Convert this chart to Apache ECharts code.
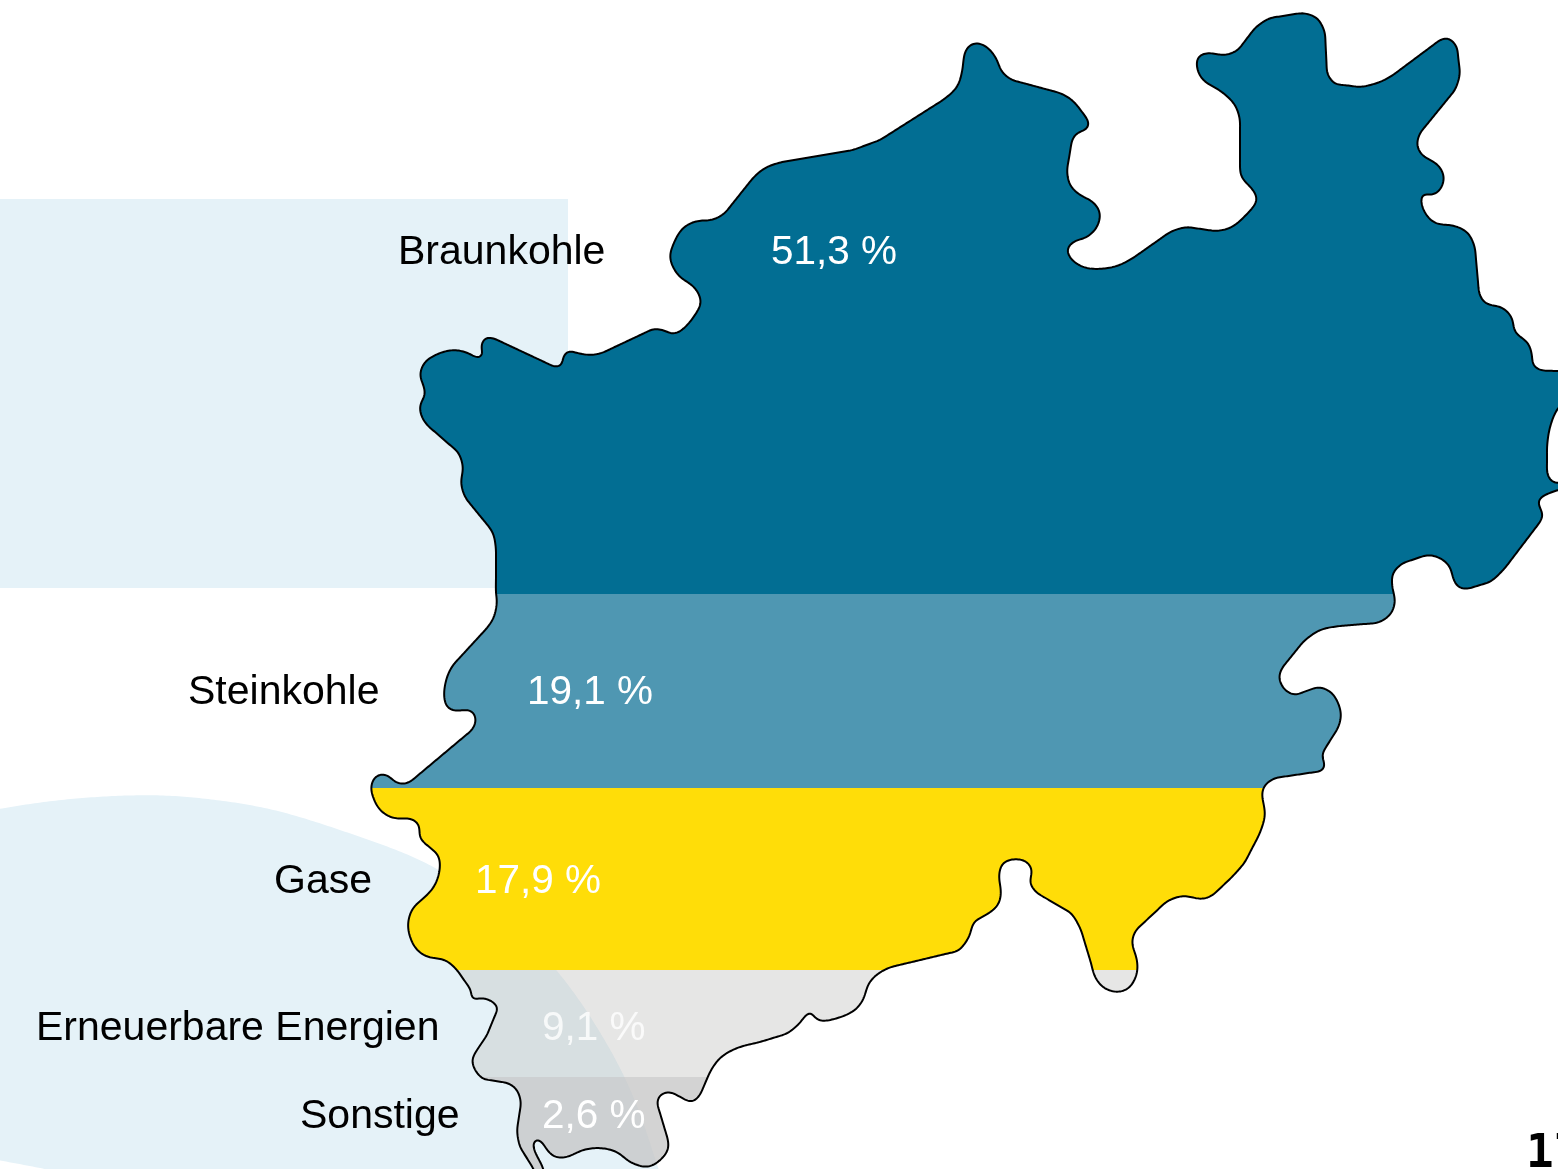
<!DOCTYPE html>
<html><head><meta charset="utf-8">
<style>html,body{margin:0;padding:0;background:#fff;overflow:hidden}#c{width:1558px;height:1169px}</style>
<script src="https://cdn.jsdelivr.net/npm/echarts@6/dist/echarts.min.js"></script>
</head><body><div id="c"></div>
<script>
const categories = ['Braunkohle','Steinkohle','Gase','Erneuerbare Energien','Sonstige'];
const shares = [51.3,19.1,17.9,9.1,2.6];
const bandEdges = [0,594,788,970,1077,1169];
const bandColors = ['#026e93','#4f97b2','#ffdd08','rgba(198,198,195,0.43)','rgba(198,198,198,0.77)'];
const nameX = [398,188,274,36,300];
const valueX = [771,527,475,542,542];
const textY = [253,693,882,1029,1117];
const outline = [
[496,594],[496,577],[496,550],[493,533],[485,522],[467,500],[465,497],[461,483],[463,467],[458,452],[427,425],[421,415],[420,405],[425,395],[424,387],[420,375],[425,362],[440,353],[455,350],[468,353],[478,358],[483,355],[481,347],[485,338],[493,338],[555,367],[562,365],[563,357],[568,351],[577,353],[590,355],[602,353],[653,329],[663,330],[673,334],[682,330],[695,315],[701,302],[695,288],[678,275],[670,258],[673,245],[683,228],[697,221],[712,220],[725,213],[753,178],[765,168],[782,162],[853,150],[880,140],[943,100],[957,87],[962,72],[965,52],[970,45],[978,43],[988,48],[996,58],[1002,72],[1012,80],[1060,93],[1072,100],[1082,112],[1089,123],[1087,129],[1077,133],[1072,140],[1067,170],[1070,185],[1080,195],[1093,202],[1100,213],[1097,227],[1087,237],[1073,242],[1067,250],[1072,260],[1083,267],[1097,269],[1117,266],[1133,258],[1170,232],[1187,227],[1215,231],[1230,228],[1243,218],[1257,200],[1253,190],[1242,178],[1240,170],[1240,120],[1235,105],[1222,92],[1203,80],[1197,68],[1198,57],[1207,53],[1225,55],[1238,50],[1255,28],[1270,18],[1302,13],[1317,18],[1325,33],[1327,73],[1335,84],[1360,87],[1380,82],[1393,75],[1440,40],[1448,38],[1457,47],[1460,73],[1455,90],[1420,133],[1417,145],[1422,155],[1438,165],[1444,177],[1440,190],[1432,195],[1423,194],[1421,200],[1425,213],[1435,223],[1455,226],[1468,233],[1475,248],[1479,293],[1485,303],[1503,308],[1512,318],[1515,332],[1528,343],[1532,355],[1533,365],[1540,370],[1558,371],[1572,373],[1572,395],[1558,408],[1550,427],[1547,447],[1547,473],[1552,482],[1558,483],[1572,484],[1572,486],[1558,490],[1540,498],[1538,503],[1543,515],[1540,522],[1505,568],[1490,582],[1467,589],[1458,587],[1453,578],[1450,567],[1440,558],[1427,555],[1403,563],[1393,573],[1392,585],[1395,602],[1390,615],[1377,623],[1340,626],[1320,630],[1303,642],[1282,668],[1279,678],[1285,690],[1295,695],[1318,687],[1332,693],[1341,713],[1338,728],[1323,752],[1322,757],[1325,765],[1322,771],[1275,778],[1265,785],[1262,793],[1265,815],[1259,835],[1245,862],[1231,878],[1213,895],[1203,899],[1182,896],[1166,902],[1136,930],[1132,942],[1137,960],[1137,973],[1130,987],[1119,992],[1104,988],[1095,977],[1091,963],[1081,930],[1071,913],[1037,893],[1030,883],[1032,870],[1027,862],[1016,859],[1003,863],[999,875],[1001,893],[998,905],[986,915],[974,922],[969,937],[958,951],[891,967],[879,973],[869,983],[863,1000],[855,1010],[841,1017],[821,1021],[815,1018],[811,1012],[807,1014],[798,1025],[786,1034],[760,1042],[737,1048],[720,1058],[710,1072],[700,1095],[692,1102],[682,1098],[670,1092],[660,1095],[657,1103],[668,1140],[668,1150],[658,1162],[647,1167],[630,1162],[617,1152],[600,1148],[583,1150],[567,1157],[555,1157],[547,1150],[542,1142],[537,1139],[533,1143],[535,1152],[543,1168],[545,1182],[538,1178],[533,1168],[520,1147],[517,1130],[521,1103],[517,1090],[508,1083],[483,1079],[475,1070],[472,1060],[477,1050],[487,1035],[498,1008],[493,1002],[483,998],[472,999],[471,990],[457,970],[445,960],[428,957],[417,950],[410,937],[408,923],[413,908],[425,897],[435,885],[440,867],[438,855],[428,846],[420,838],[419,825],[412,819],[393,818],[380,810],[373,797],[371,787],[375,777],[383,774],[390,777],[395,782],[403,784],[410,782],[472,730],[476,720],[472,711],[463,710],[455,711],[447,707],[444,695],[447,677],[453,665],[487,628],[494,617],[497,600]
];
const backdropRect = [0,199,568,588];
const backdropBlob = [[-80,832],[0,809],[80,798],[160,795],[200,798],[267,808],[340,830],[437,868],[500,916],[557,970],[625,1077],[658,1169],[680,1260],[300,1240],[120,1185],[45,1169],[0,1160],[-80,1140],[-120,1000]];
const pageMark = '17';

const fmt = v => v.toFixed(1).replace('.',',') + ' %';

// Keep long border runs straight by pinning the path near both ends of each run.
function pinRuns(pts, minLen, offset){
  const out=[];
  pts.forEach((p,i)=>{
    const q=pts[(i+1)%pts.length], len=Math.hypot(q[0]-p[0],q[1]-p[1]);
    out.push(p);
    if(len>minLen){
      const k=offset/len;
      out.push([p[0]+(q[0]-p[0])*k,p[1]+(q[1]-p[1])*k]);
      out.push([q[0]-(q[0]-p[0])*k,q[1]-(q[1]-p[1])*k]);
    }
  });
  return out;
}
// Centripetal Catmull-Rom tracing of a closed pixel-space outline.
function trace(pts, steps){
  const n=pts.length, out=[];
  const dist=(a,b)=>Math.sqrt(Math.hypot(a[0]-b[0],a[1]-b[1]))||1e-3;
  const mix=(a,b,ta,tb,t)=>[a[0]+(b[0]-a[0])*(t-ta)/(tb-ta),a[1]+(b[1]-a[1])*(t-ta)/(tb-ta)];
  for(let i=0;i<n;i++){
    const p0=pts[(i-1+n)%n],p1=pts[i],p2=pts[(i+1)%n],p3=pts[(i+2)%n];
    const t0=0,t1=t0+dist(p0,p1),t2=t1+dist(p1,p2),t3=t2+dist(p2,p3);
    for(let s=0;s<steps;s++){
      const t=t1+(t2-t1)*s/steps;
      const a1=mix(p0,p1,t0,t1,t),a2=mix(p1,p2,t1,t2,t),a3=mix(p2,p3,t2,t3,t);
      const b1=mix(a1,a2,t0,t2,t),b2=mix(a2,a3,t1,t3,t);
      out.push(mix(b1,b2,t1,t2,t));
    }
  }
  return out;
}
// Even spacing along the closed path, then a small rolling mean to round leftover kinks.
function soften(pts, spacing, half, passes){
  const even=[]; let carry=0;
  for(let i=0;i<pts.length;i++){
    const a=pts[i],b=pts[(i+1)%pts.length],len=Math.hypot(b[0]-a[0],b[1]-a[1]);
    let d=carry;
    while(d<len){ even.push([a[0]+(b[0]-a[0])*d/len,a[1]+(b[1]-a[1])*d/len]); d+=spacing; }
    carry=d-len;
  }
  let cur=even; const n=even.length;
  for(let k=0;k<passes;k++){
    cur=cur.map((_,i)=>{
      let x=0,y=0;
      for(let j=-half;j<=half;j++){ const q=cur[(i+j+n)%n]; x+=q[0]; y+=q[1]; }
      return [x/(2*half+1),y/(2*half+1)];
    });
  }
  return cur;
}

const chart = echarts.init(document.getElementById('c'),null,{renderer:'canvas'});
const blobPts = api=>soften(trace(backdropBlob.map(p=>api.coord(p)),8),3,6,3);
const borderPts = api=>soften(trace(pinRuns(outline.map(p=>api.coord(p)),24,7),6),1.5,2,3);
const FONT='"Liberation Sans",Arial,sans-serif';
const bandData = categories.map((c,i)=>({name:c,value:[0,bandEdges[i],bandEdges[i+1],shares[i]]}));
chart.setOption({
  animation:false,
  grid:{left:0,right:0,top:0,bottom:0,containLabel:false},
  xAxis:{type:'value',min:0,max:1558,show:false},
  yAxis:{type:'value',min:0,max:1169,inverse:true,show:false},
  series:[
    {type:'custom',coordinateSystem:'cartesian2d',clip:false,silent:true,data:[[0,0]],z:1,
     renderItem(p,api){
       const a=api.coord([backdropRect[0],backdropRect[1]]),b=api.coord([backdropRect[2],backdropRect[3]]);
       return {type:'group',children:[
         {type:'rect',shape:{x:a[0],y:a[1],width:b[0]-a[0],height:b[1]-a[1]},style:{fill:'#e5f2f8'}},
         {type:'polygon',shape:{points:blobPts(api)},style:{fill:'#e5f2f8'}}
       ]};
     }},
    {type:'custom',coordinateSystem:'cartesian2d',clip:false,silent:true,data:bandData,z:2,
     encode:{x:0,y:[1,2]},
     renderItem(p,api){
       const i=p.dataIndex;
       const t=api.coord([0,api.value(1)]),b=api.coord([0,api.value(2)]);
       return {type:'polygon',shape:{points:borderPts(api)},style:{fill:bandColors[i]},
         clipPath:{type:'rect',shape:{x:0,y:t[1],width:1558,height:b[1]-t[1]}}};
     }},
    {type:'custom',coordinateSystem:'cartesian2d',clip:false,silent:true,data:[[0,0]],z:3,
     renderItem(p,api){
       return {type:'polygon',shape:{points:borderPts(api)},style:{fill:'none',stroke:'#000',lineWidth:2,lineJoin:'round'}};
     }},
    {type:'custom',coordinateSystem:'cartesian2d',clip:false,silent:true,data:categories.map((c,i)=>i),z:4,
     encode:{x:0},
     renderItem(p,api){
       const i=p.dataIndex;
       const a=api.coord([nameX[i],textY[i]]),b=api.coord([valueX[i],textY[i]]);
       return {type:'group',children:[
         {type:'text',style:{x:a[0],y:a[1],text:categories[i],fill:'#000',fontSize:41,fontFamily:FONT,textAlign:'left',textVerticalAlign:'middle'}},
         {type:'text',style:{x:b[0],y:b[1],text:fmt(shares[i]),fill:i===3?'rgba(255,255,255,0.8)':'#fff',fontSize:40.5,fontFamily:FONT,textAlign:'left',textVerticalAlign:'middle'}}
       ]};
     }}
  ],
  graphic:[{type:'text',left:1526,top:1132,z:10,silent:true,style:{text:pageMark,fill:'#000',fontSize:46,fontWeight:'bold',fontFamily:'"DejaVu Sans Mono",monospace'}}]
});
</script></body></html>
